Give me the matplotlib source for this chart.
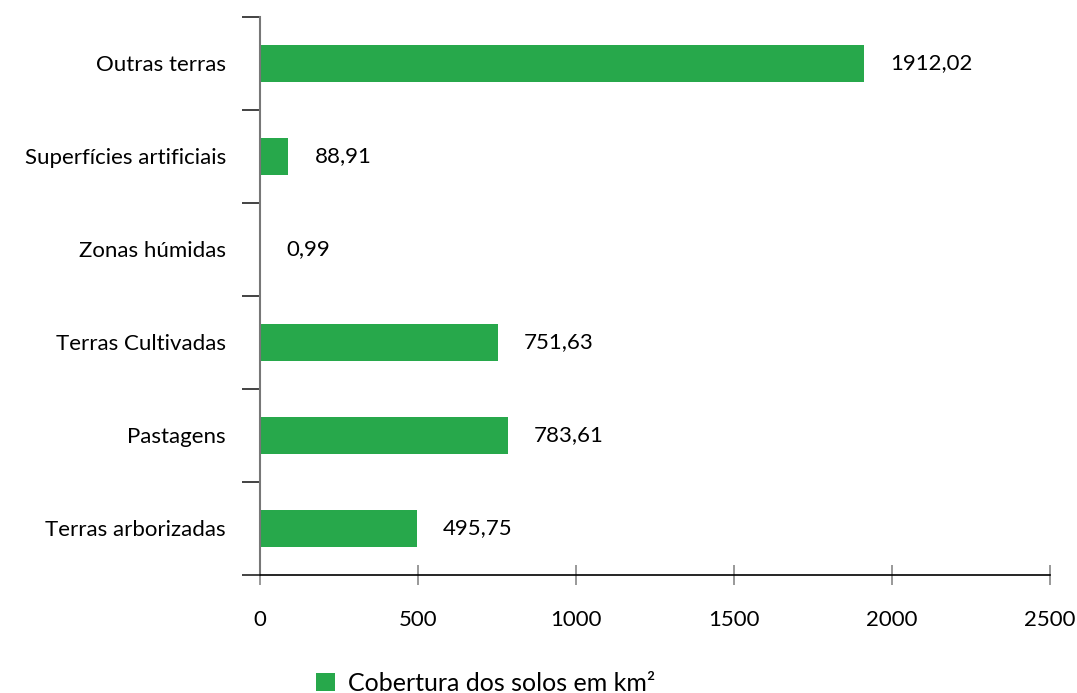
import matplotlib.pyplot as plt
from matplotlib.ticker import FixedLocator

plt.rcParams['font.family'] = ['Lato', 'DejaVu Sans']

categories = ['Terras arborizadas', 'Pastagens', 'Terras Cultivadas',
              'Zonas húmidas', 'Superfícies artificiais', 'Outras terras']
values = [495.75, 783.61, 751.63, 0.99, 88.91, 1912.02]
x_ticks = [0, 500, 1000, 1500, 2000, 2500]
legend_label = 'Cobertura dos solos em km²'
bar_color = '#27a84b'

fig = plt.figure(figsize=(10.77, 6.93), dpi=100)
ax = fig.add_axes([0.2414, 0.1703, 0.975 - 0.2414, 0.9755 - 0.1703])

pos = list(range(len(categories)))
bars = ax.barh(pos, values, height=0.4, color=bar_color, label=legend_label)

# value labels at the end of each bar
for p, v in zip(pos, values):
    ax.annotate(f'{v:.2f}'.replace('.', ','), (v, p), xytext=(19, 0),
                textcoords='offset points', va='center', ha='left', fontsize=16)

ax.set_xlim(0, 2500)
ax.set_ylim(-0.5, len(categories) - 0.5)
ax.set_xticks(x_ticks)
ax.set_xticklabels([str(t) for t in x_ticks], fontsize=16)
ax.set_yticks(pos)
ax.set_yticklabels(categories, fontsize=16)
ax.yaxis.set_minor_locator(FixedLocator([p - 0.5 for p in pos] + [pos[-1] + 0.5]))

ax.tick_params(axis='y', which='major', length=0, pad=24.5)
ax.tick_params(axis='y', which='minor', length=13, width=1.2, color='#222222')
ax.tick_params(axis='x', direction='inout', length=14, width=1.2, color='#888888', pad=18)

for side in ['top', 'right']:
    ax.spines[side].set_visible(False)
ax.spines['left'].set_color('#777777')
ax.spines['left'].set_linewidth(1.5)
ax.spines['bottom'].set_color('black')
ax.spines['bottom'].set_linewidth(1.2)

fig.legend(handles=[bars], loc='lower center', bbox_to_anchor=(0.451, -0.035),
           frameon=False, fontsize=18, handlelength=0.75, handleheight=0.75,
           handletextpad=0.5)

fig.savefig('out.png', dpi=100)
